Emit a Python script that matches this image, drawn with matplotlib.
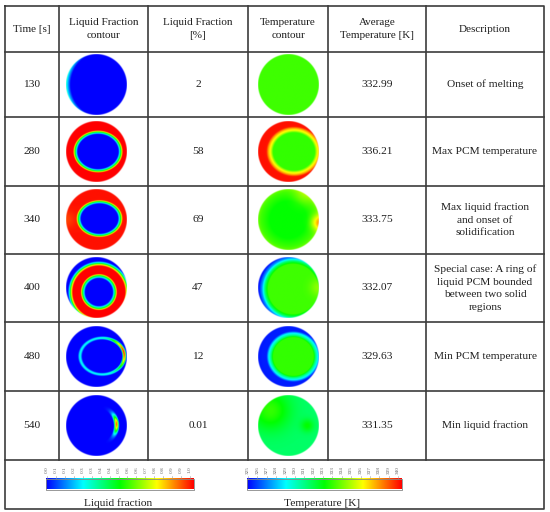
import numpy as np
import matplotlib
matplotlib.use('Agg')
from matplotlib import pyplot as plt
from matplotlib.colors import LinearSegmentedColormap

plt.rcParams['font.family'] = ['Liberation Serif', 'DejaVu Serif']

# table contents
headers = ['Time [s]', 'Liquid Fraction\ncontour', 'Liquid Fraction\n[%]',
           'Temperature\ncontour', 'Average\nTemperature [K]', 'Description']
times = ['130', '280', '340', '400', '480', '540']
lf_pct = ['2', '58', '69', '47', '12', '0.01']
avg_temp = ['332.99', '336.21', '333.75', '332.07', '329.63', '331.35']
descriptions = ['Onset of melting',
                'Max PCM temperature',
                'Max liquid fraction\nand onset of\nsolidification',
                'Special case: A ring of\nliquid PCM bounded\nbetween two solid\nregions',
                'Min PCM temperature',
                'Min liquid fraction']

lf_ticks = ['0.0', '0.1', '0.1', '0.2', '0.3', '0.3', '0.4', '0.4', '0.5',
            '0.6', '0.6', '0.7', '0.8', '0.8', '0.9', '0.9', '1.0']
t_ticks = ['325', '326', '327', '328', '329', '330', '331', '332', '333',
           '333', '334', '335', '336', '337', '338', '339', '340']

# contour fields (unit disc, normalised colour value)
# center, axis scales, radial knots, radial values, gain g0, gain blobs, add blobs
lf_center = [(0.25, 0), (0.05, 0.0), (0.1, 0.03), (0.08, -0.15), (0.19, 0.01), (0.0, 0.0)]
lf_scale = [(1, 1), (0.67, 0.57), (0.61, 0.49), (1, 1), (0.73, 0.6), (0.66, 0.66)]
lf_knots = [[0, 1.1, 1.3, 3],
            [0, 1.0, 1.07, 1.14, 1.22, 5],
            [0, 1.0, 1.08, 1.16, 1.25, 5],
            [0, 0.45, 0.5, 0.55, 0.6, 0.86, 0.91, 0.96, 1.02, 3],
            [0, 0.9, 0.96, 1.0, 1.04, 1.1, 5],
            [0, 0.86, 0.94, 1.0, 1.06, 1.14, 5]]
lf_vals = [[0, 0, 0.4, 0.4],
           [0, 0, 0.3, 0.55, 1, 1],
           [0, 0, 0.3, 0.55, 0.98, 1],
           [0, 0, 0.3, 0.55, 1, 1, 0.7, 0.35, 0, 0],
           [0, 0, 0.8, 1, 0.8, 0, 0],
           [0, 0, 0.8, 1, 0.8, 0, 0]]
lf_g0 = [1, 1, 1, 1, 0.26, 0.0]
lf_gain = [[], [], [], [], [(0.75, 0.12, 0.85, 0.3)], [(0.7, 0.05, 0.95, 0.22)]]
lf_add = [[], [], [(-1.0, 0.0, -0.05, 0.2)], [], [], []]

t_center = [(0, 0), (0.18, 0.0), (0, 0), (0.15, -0.05), (0.16, 0.0), (0, 0)]
t_scale = [(1, 1), (0.95, 0.86), (1, 1), (1, 1), (0.95, 0.9), (1, 1)]
t_knots = [[0, 2],
           [0, 0.72, 0.8, 0.88, 0.96, 3],
           [0, 0.6, 0.9, 1.0, 2],
           [0, 0.82, 0.93, 1.02, 1.12, 3],
           [0, 0.7, 0.77, 0.85, 0.93, 3],
           [0, 2]]
t_vals = [[0.56, 0.56],
          [0.55, 0.55, 0.72, 0.82, 0.98, 1],
          [0.5, 0.5, 0.56, 0.6, 0.6],
          [0.56, 0.56, 0.38, 0.15, 0.02, 0],
          [0.55, 0.55, 0.38, 0.25, 0.03, 0],
          [0.4, 0.4]]
t_add = [[], [], [(1.0, -0.1, 0.25, 0.18), (0.5, 0.8, 0.08, 0.25)], [(1.0, 0.0, 0.08, 0.2)], [],
         [(-0.6, 0.5, 0.15, 0.45), (0.62, 0.0, 0.1, 0.15)]]

cmap = LinearSegmentedColormap.from_list(
    'fluent', ['#0000ff', '#00ffff', '#00ff00', '#ffff00', '#ff0000'])

# layout in pixels
col_x = [5, 59, 148, 248, 328, 426, 544]
row_y = [6, 52, 117, 186, 254, 322, 391, 460, 509]
line_c = '#3c3c3c'
txt_c = '#1e1e1e'
R = 30.5
N = 240


def field(center, scale, knots, vals, g0, gains, adds):
    yy, xx = np.mgrid[1:-1:N * 1j, -1:1:N * 1j]
    r = np.hypot((xx - center[0]) / scale[0], (yy - center[1]) / scale[1])
    f = np.interp(r, knots, vals)
    g = np.full_like(f, g0, dtype=float)
    for bx, by, amp, s in gains:
        g += amp * np.exp(-((xx - bx) ** 2 + (yy - by) ** 2) / (2 * s * s))
    f = f * g
    for bx, by, amp, s in adds:
        f += amp * np.exp(-((xx - bx) ** 2 + (yy - by) ** 2) / (2 * s * s))
    rgba = cmap(np.clip(f, 0, 1))
    rho = np.hypot(xx, yy)
    rgba[..., 3] = np.clip((1 - rho) * R + 0.5, 0, 1)
    return rgba


fig = plt.figure(figsize=(5.5, 5.12), dpi=100)
ax = fig.add_axes([0, 0, 1, 1])
ax.set_xlim(0, 550)
ax.set_ylim(512, 0)
ax.axis('off')

# grid
for x in col_x[1:-1]:
    ax.plot([x, x], [row_y[0], row_y[-2]], color=line_c, lw=1.2)
for y in row_y[1:-1]:
    ax.plot([col_x[0], col_x[-1]], [y, y], color=line_c, lw=1.2)
ax.plot([col_x[0], col_x[-1], col_x[-1], col_x[0], col_x[0]],
        [row_y[0], row_y[0], row_y[-1], row_y[-1], row_y[0]], color=line_c, lw=1.2)

centers_x = [(col_x[i] + col_x[i + 1]) / 2 for i in range(6)]
for i, h in enumerate(headers):
    ax.text(centers_x[i], (row_y[0] + row_y[1]) / 2, h, ha='center', va='center',
            fontsize=8, color=txt_c, linespacing=1.45)

for k in range(6):
    yc = (row_y[k + 1] + row_y[k + 2]) / 2
    ax.text(centers_x[0], yc, times[k], ha='center', va='center', fontsize=8.2, color=txt_c)
    ax.text(centers_x[2], yc, lf_pct[k], ha='center', va='center', fontsize=8.2, color=txt_c)
    ax.text(centers_x[4], yc, avg_temp[k], ha='center', va='center', fontsize=8.2, color=txt_c)
    ax.text(centers_x[5], yc, descriptions[k], ha='center', va='center', fontsize=8.2,
            color=txt_c, linespacing=1.5)

    img = field(lf_center[k], lf_scale[k], lf_knots[k], lf_vals[k], lf_g0[k], lf_gain[k], lf_add[k])
    cx = 96.5
    ax.imshow(img, extent=[cx - R, cx + R, yc + R, yc - R], aspect='auto', interpolation='bilinear')
    img = field(t_center[k], t_scale[k], t_knots[k], t_vals[k], 1, [], t_add[k])
    cx = 288
    ax.imshow(img, extent=[cx - R, cx + R, yc + R, yc - R], aspect='auto', interpolation='bilinear')

# colour bars
grad = np.linspace(0, 1, 256)[None, :]
for (x0, x1), labels, title in [((46, 194), lf_ticks, 'Liquid fraction'),
                                ((247, 402), t_ticks, 'Temperature [K]')]:
    ax.imshow(grad, cmap=cmap, extent=[x0, x1, 489.5, 479], aspect='auto')
    ax.plot([x0, x1, x1, x0, x0], [479, 479, 489.5, 489.5, 479], color='#888888', lw=0.6)
    pos = np.linspace(x0 + 1, x1 - 4, len(labels))
    for p, lab in zip(pos, labels):
        ax.text(p, 470, lab, rotation=90, ha='center', va='center', fontsize=3.8, color='#666666')
        ax.plot([p, p], [476, 478], color='#999999', lw=0.4)
    ax.text((x0 + x1) / 2 - 2, 503, title, ha='center', va='center', fontsize=8.2, color=txt_c)

ax.set_xlim(0, 550)
ax.set_ylim(512, 0)
fig.savefig('out.png', dpi=100)
